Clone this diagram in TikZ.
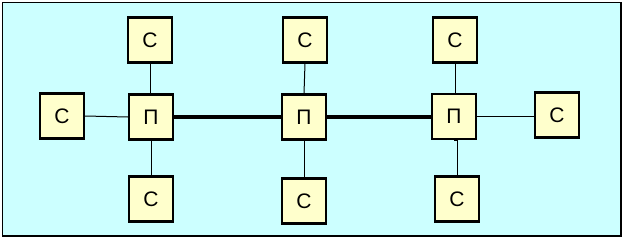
\documentclass[tikz,border=0pt]{standalone}
\usepackage{fontspec}
\setmainfont{Liberation Sans}
\newcommand{\boxfont}{\fontsize{21}{24}\selectfont}
\begin{document}
\begin{tikzpicture}[x=1pt,y=-1pt,
  sbox/.style={draw=black,line width=2.4pt,fill=boxyellow,minimum width=44pt,minimum height=45pt,inner sep=0pt,font=\boxfont},
  thin/.style={line width=1pt},
  thick/.style={line width=3.2pt}]
\definecolor{boxyellow}{HTML}{FFFFCC}
\definecolor{bgcyan}{HTML}{CCFFFF}
\useasboundingbox (0,0) rectangle (626,238);
\draw[fill=bgcyan,line width=1.6pt] (2.5,2.5) rectangle (621,236);
\path (151,117) node[sbox] (p1) {П};
\path (304,117) node[sbox] (p2) {П};
\path (454,116.5) node[sbox] (p3) {П};
\path (150,40) node[sbox] (c1) {С};
\path (62,116) node[sbox] (c2) {С};
\path (151,199) node[sbox] (c3) {С};
\path (305,40) node[sbox] (c4) {С};
\path (304,201) node[sbox] (c5) {С};
\path (455,40) node[sbox] (c6) {С};
\path (557,115) node[sbox] (c7) {С};
\path (457,199) node[sbox] (c8) {С};
\draw[thin] (c1.south) -- (c1.south |- p1.north);
\draw[thin] (c2.east) -- (p1.west);
\draw[thin] (p1.south) -- (c3.north);
\draw[thin] (c4.south) -- (p2.north);
\draw[thin] (p2.south) -- (c5.north);
\draw[thin] (c6.south) -- (c6.south |- p3.north);
\draw[thin] (p3.east) -- (p3.east -| c7.west);
\draw[thin] (p3.south) -- (p3.south -| c8.north) -- (c8.north);
\draw[thick] (p1.east) -- (p2.west);
\draw[thick] (p2.east) -- (p2.east -| p3.west);
\end{tikzpicture}
\end{document}
